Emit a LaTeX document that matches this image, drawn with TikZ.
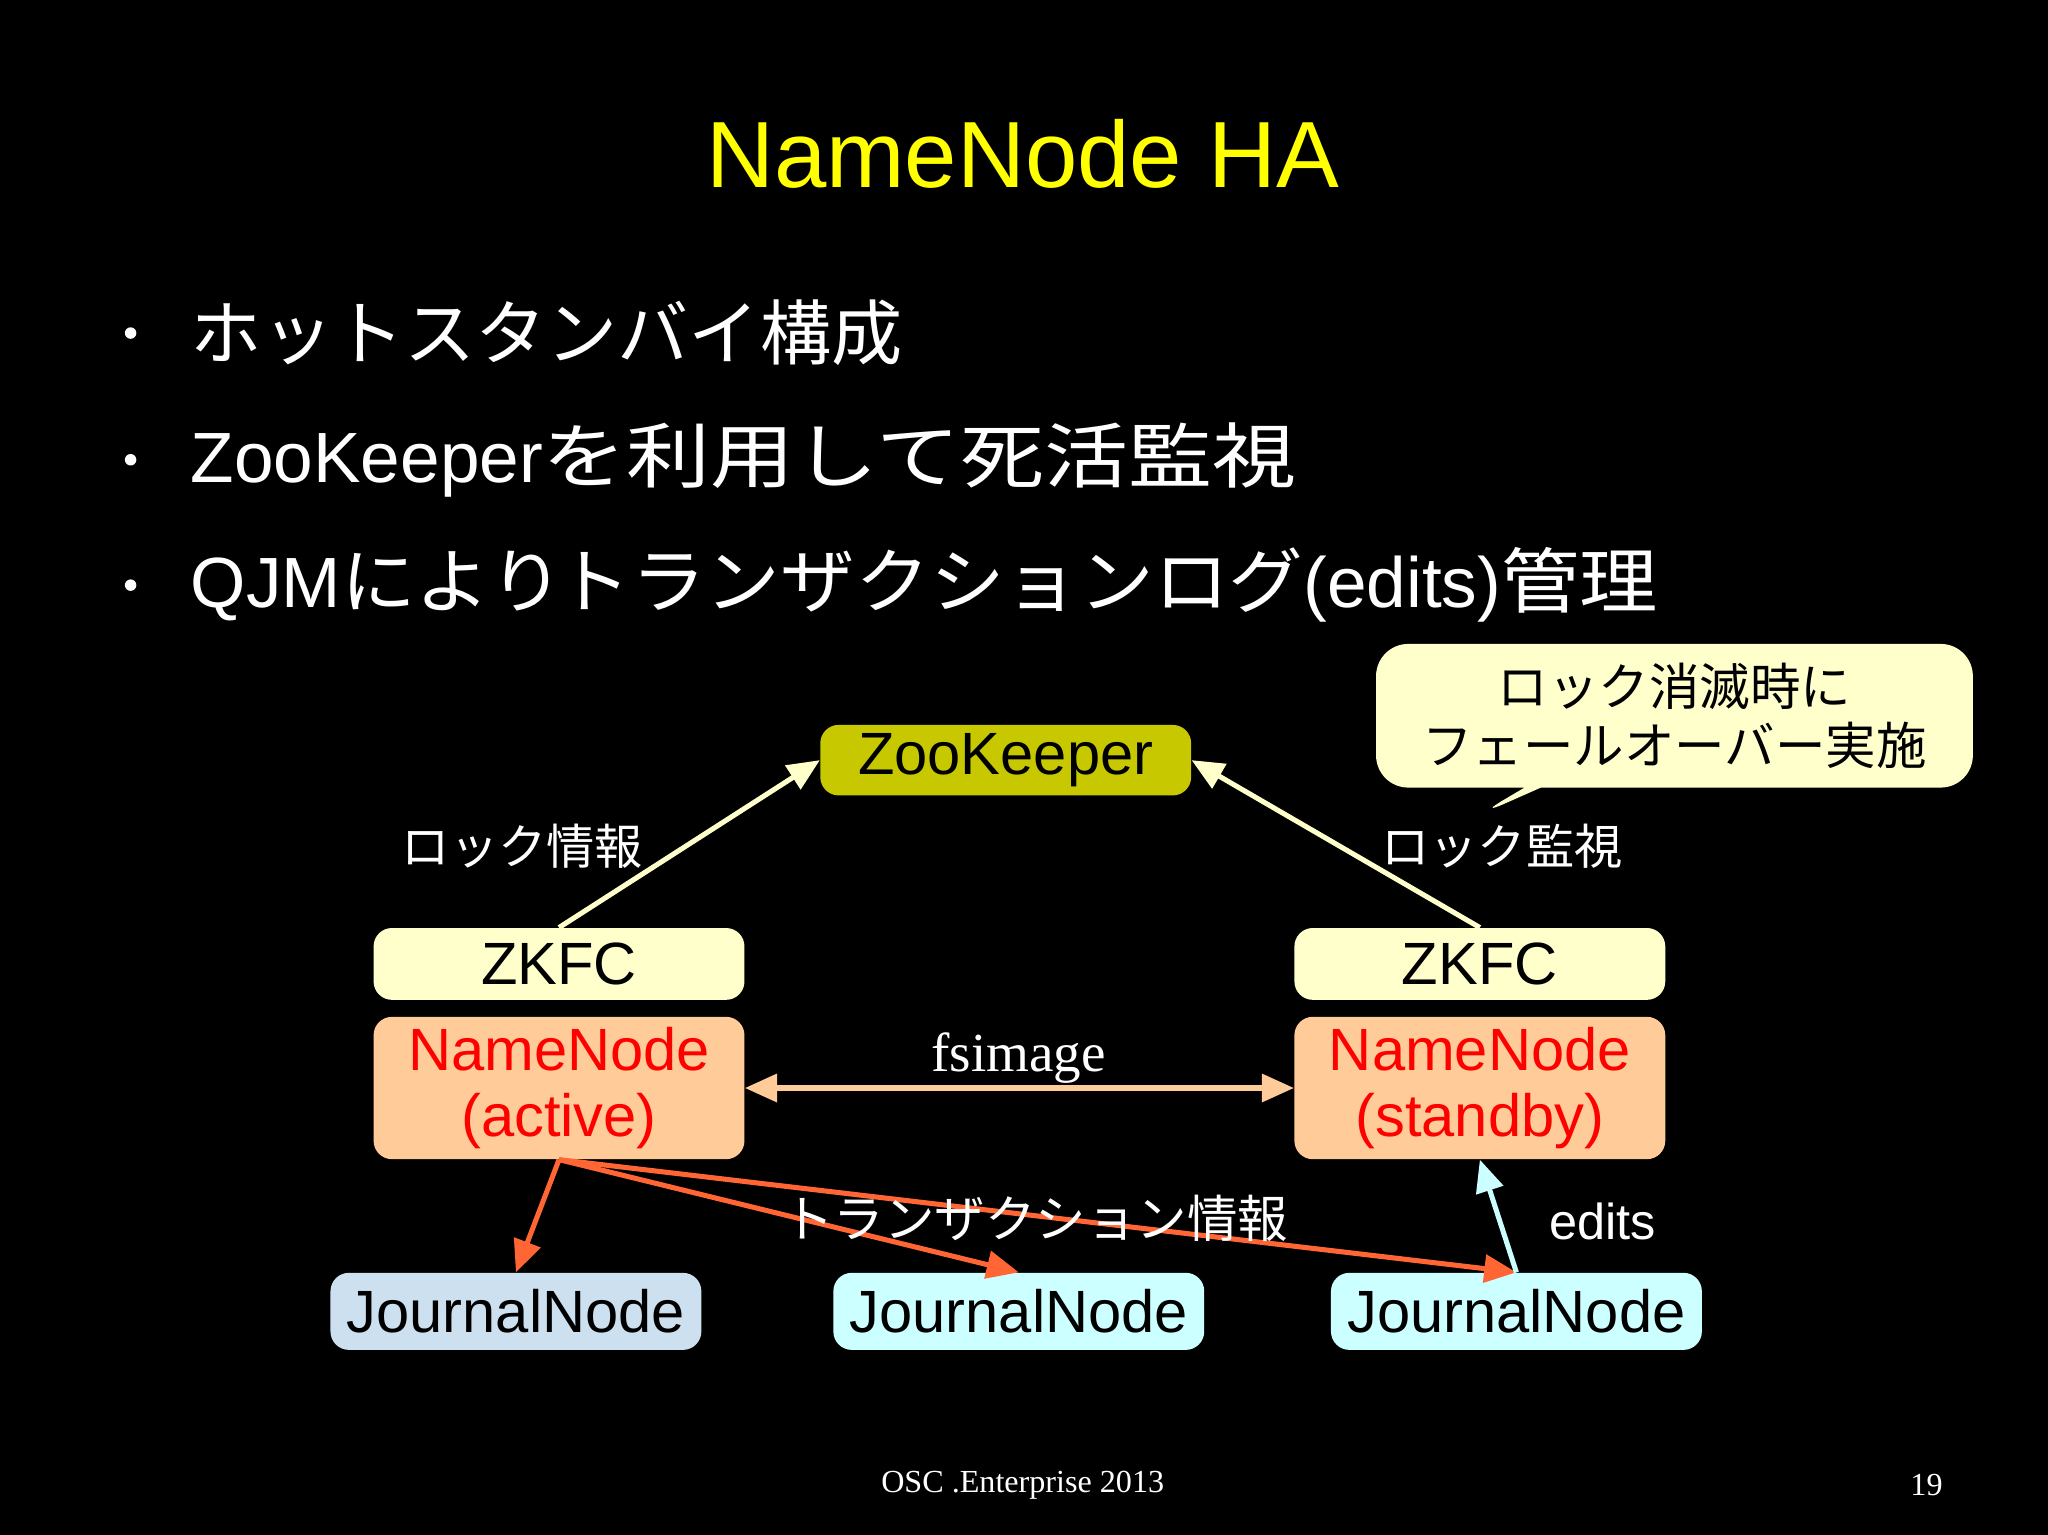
\documentclass[tikz,border=0pt]{standalone}
\usepackage{fontspec}
\usepackage{graphicx}
\setmainfont{Liberation Sans}
\newfontfamily\jp{Noto Sans CJK JP}
\newfontfamily\serif{Liberation Serif}
\usetikzlibrary{arrows.meta,shapes.callouts}
\definecolor{zk}{HTML}{C8C800}
\definecolor{ly}{HTML}{FFFFCC}
\definecolor{peach}{HTML}{FFCC99}
\definecolor{jn1}{HTML}{CCE0F0}
\definecolor{jn2}{HTML}{CCFFFF}
\definecolor{redarr}{HTML}{FF6633}
\definecolor{ttl}{HTML}{FFFF00}
\tikzset{
 box/.style={rounded corners=8pt,inner sep=0pt,font=\fontsize{26}{29}\selectfont},
 lbl/.style={text=white,font=\jp\fontsize{21}{24}\selectfont},
 bul/.style={text=white,anchor=west,font=\fontsize{31}{34}\selectfont},
 ar/.style={line width=2.2pt,-{Triangle[length=14pt,width=12pt]}}
}
\begin{document}
\begin{tikzpicture}[x=0.02cm,y=-0.02cm]
\fill[black] (0,0) rectangle (1568,1175);
\useasboundingbox (0,0) rectangle (1568,1175);
\node[text=ttl,font=\fontsize{41}{46}\selectfont] (title) at (783,118) {NameNode HA};
\foreach \y/\n in {255/a,352/b,448/c}{\node[circle,fill=white,inner sep=0pt,minimum size=5pt] (d\n) at (100,\y) {};}
\node[bul] (b1) at (140,255) {\jp ホットスタンバイ構成};
\node[bul] (b2) at (140,352) {ZooKeeper\scalebox{1.18}[1]{\jp を利用して死活監視}};
\node[bul] (b3) at (140,448) {QJM\scalebox{1.05}[1]{\jp により\hspace{-3pt}トランザクションログ}(edits)\scalebox{1.1}[1]{\jp 管理}};
\node[rectangle callout,fill=ly,rounded corners=14pt,minimum width=9.14cm,minimum height=2.2cm,callout absolute pointer={(1130,625)},align=center,font=\jp\fontsize{22}{26}\selectfont] (call) at (1282,548) {ロック消滅時に\\フェールオーバー実施};
\node[box,fill=zk,minimum width=5.68cm,minimum height=1.08cm] (zk) at (770,582) {ZooKeeper};
\node[box,fill=ly,minimum width=5.68cm,minimum height=1.1cm] (z1) at (428,738) {ZKFC};
\node[box,fill=ly,minimum width=5.68cm,minimum height=1.1cm] (z2) at (1133,738) {ZKFC};
\node[box,fill=peach,text=red,minimum width=5.68cm,minimum height=2.18cm,align=center] (n1) at (428,833) {NameNode\\(active)};
\node[box,fill=peach,text=red,minimum width=5.68cm,minimum height=2.18cm,align=center] (n2) at (1133,833) {NameNode\\(standby)};
\node[box,fill=jn1,minimum width=5.68cm,minimum height=1.18cm] (j1) at (395,1004) {JournalNode};
\node[box,fill=jn2,minimum width=5.68cm,minimum height=1.18cm] (j2) at (780,1004) {JournalNode};
\node[box,fill=jn2,minimum width=5.68cm,minimum height=1.18cm] (j3) at (1161,1004) {JournalNode};
\draw[ar,ly] (z1.north) -- (zk.west);
\draw[ar,ly] (z2.north) -- (zk.east);
\node[lbl] (l1) at (400,648) {ロック情報};
\node[lbl] (l2) at (1150,648) {ロック監視};
\draw[line width=2.2pt,peach,{Triangle[length=14pt,width=12pt]}-{Triangle[length=14pt,width=12pt]}] (n1.east) -- (n2.west);
\node[text=white,font=\serif\fontsize{24}{26}\selectfont] (fs) at (780,810) {fsimage};
\draw[ar,redarr] (n1.south) -- (j1.north);
\draw[ar,redarr] (n1.south) -- (j2.north);
\draw[ar,redarr] (n1.south) -- (j3.north);
\node[lbl,font=\jp\fontsize{22}{24}\selectfont] (tl) at (793,933) {トランザクション情報};
\draw[ar,jn2] (j3.north) -- (n2.south);
\node[text=white,font=\fontsize{22}{24}\selectfont] (ed) at (1227,935) {edits};
\node[text=white,font=\serif\fontsize{14}{16}\selectfont] (f1) at (783,1137) {OSC .Enterprise 2013};
\node[text=white,font=\serif\fontsize{14}{16}\selectfont] (f2) at (1475,1137) {19};
\end{tikzpicture}
\end{document}
